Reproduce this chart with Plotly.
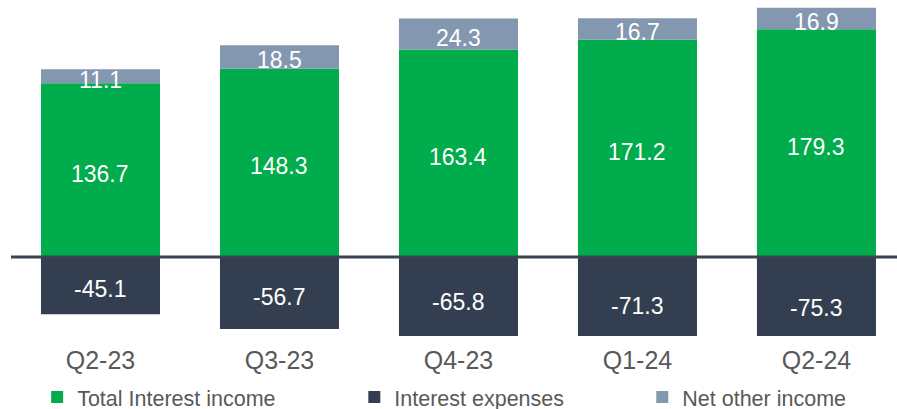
import plotly.graph_objects as go

categories = ["Q2-23", "Q3-23", "Q4-23", "Q1-24", "Q2-24"]
interest_income = [136.7, 148.3, 163.4, 171.2, 179.3]
interest_expenses = [-45.1, -56.7, -65.8, -71.3, -75.3]
net_other_income = [11.1, 18.5, 24.3, 16.7, 16.9]

GREEN = "#00AC4B"
NAVY = "#333F50"
GREYBLUE = "#8497B0"
FONT = "Arial, Liberation Sans, sans-serif"

fig = go.Figure()
fig.add_trace(go.Bar(x=categories, y=interest_income, name="Total Interest income",
                     marker=dict(color=GREEN, line=dict(width=0)), legend="legend"))
fig.add_trace(go.Bar(x=categories, y=interest_expenses, name="Interest expenses",
                     marker=dict(color=NAVY, line=dict(width=0)), legend="legend2"))
fig.add_trace(go.Bar(x=categories, y=net_other_income, name="Net other income",
                     marker=dict(color=GREYBLUE, line=dict(width=0)), legend="legend3"))

# value labels (centred on each segment, slight downward pixel shift)
lab_font = dict(family=FONT, size=23, color="white")
for i, cat in enumerate(categories):
    inc, exp, oth = interest_income[i], interest_expenses[i], net_other_income[i]
    for yv, val in ((inc / 2, inc), (exp / 2, exp), (inc + oth / 2, oth)):
        fig.add_annotation(x=cat, y=yv, text=f"{val:.1f}", showarrow=False,
                           font=lab_font, yshift=-3.5, xanchor="center", yanchor="middle")

fig.add_shape(type="line", xref="paper", yref="y", x0=0, x1=1, y0=0, y1=0,
              line=dict(color="#3A4450", width=3), layer="above")

leg_common = dict(orientation="h", yref="container", yanchor="middle", y=0.029, xanchor="left",
                  font=dict(family=FONT, size=21.5, color="#595959"),
                  bgcolor="rgba(0,0,0,0)", borderwidth=0, itemwidth=30)

fig.update_layout(
    width=897, height=409,
    margin=dict(l=11, r=0, t=5, b=73, autoexpand=False),
    barmode="relative",
    bargap=0.335,
    plot_bgcolor="white", paper_bgcolor="white",
    font=dict(family=FONT),
    xaxis=dict(range=[-0.5, 4.45], showgrid=False, showline=False, zeroline=False, automargin=False,
               ticks="", ticklabelstandoff=7,
               tickfont=dict(family=FONT, size=25, color="#595959"), fixedrange=True),
    yaxis=dict(range=[-62.2, 198.4], visible=False, showgrid=False, zeroline=False, fixedrange=True),
    legend=dict(x=0.0295, **leg_common),
    legend2=dict(x=0.3875, **leg_common),
    legend3=dict(x=0.7125, **leg_common),
    showlegend=True,
)

fig.write_html("out.html", config={"displayModeBar": False},
               post_script="document.body.style.margin='0';document.body.style.overflow='hidden';")
